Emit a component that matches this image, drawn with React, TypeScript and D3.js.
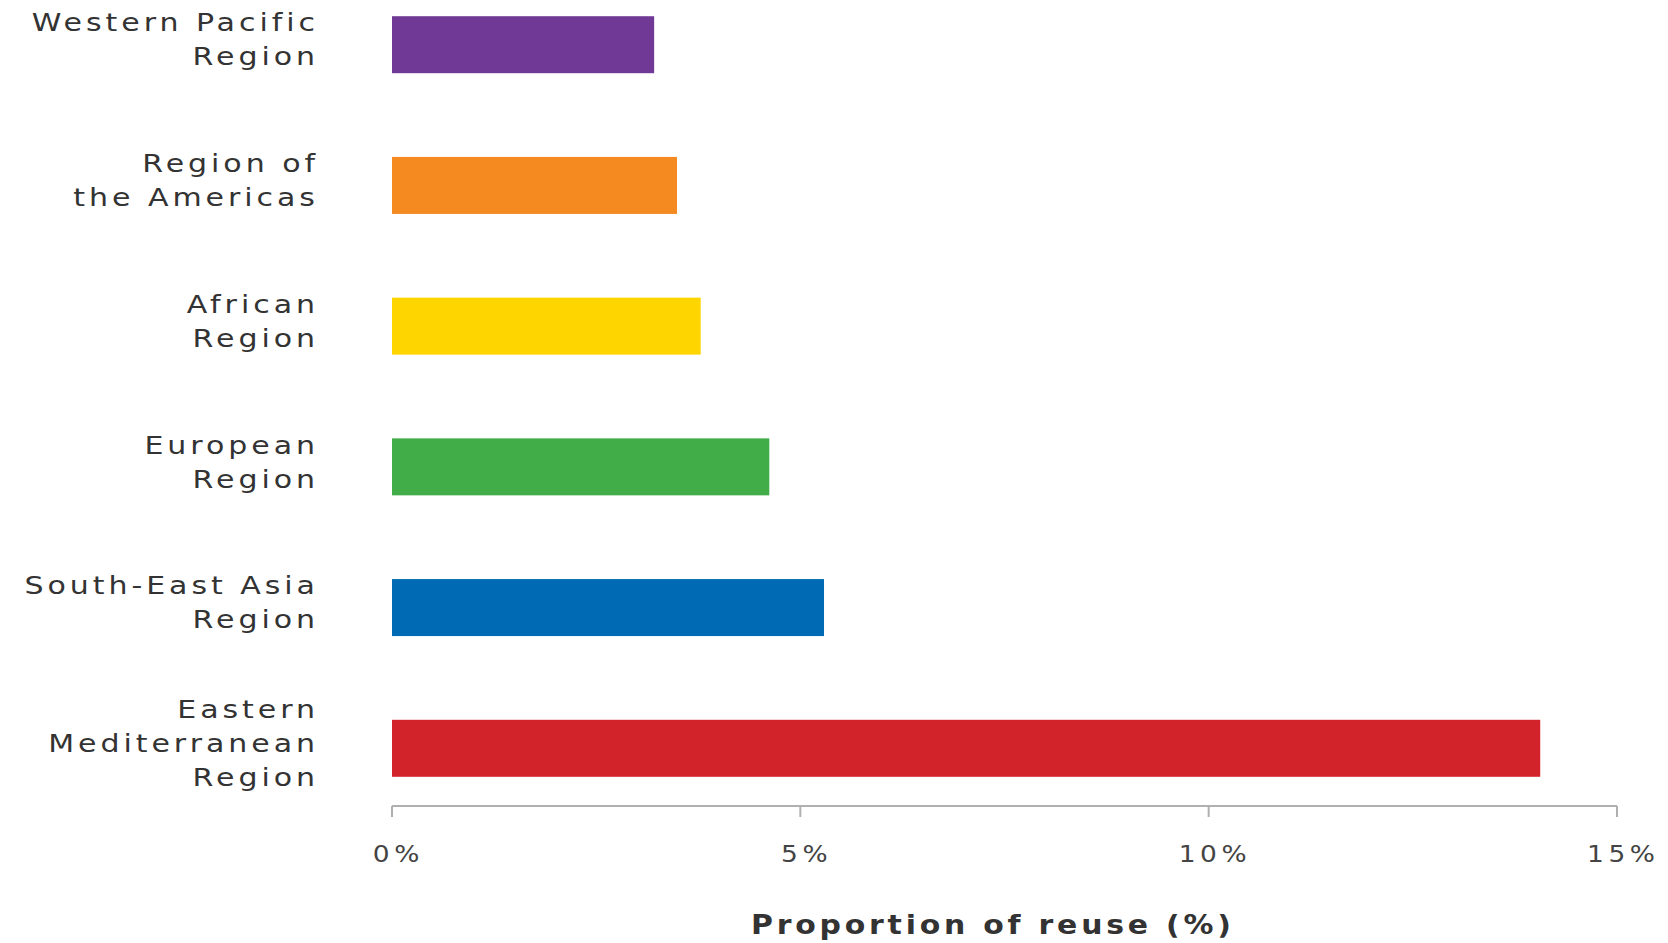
import React from "react";
import * as d3 from "d3";

const categories = [
  ["Western Pacific", "Region"],
  ["Region of", "the Americas"],
  ["African", "Region"],
  ["European", "Region"],
  ["South-East Asia", "Region"],
  ["Eastern", "Mediterranean", "Region"],
];
const values = [3.21, 3.49, 3.78, 4.62, 5.29, 14.06];
const colors = ["#713996", "#F58A20", "#FFD500", "#41AD49", "#006AB5", "#D2232A"];
const ticks = [0, 5, 10, 15];
const axisTitle = "Proportion of reuse (%)";

const W = 1668;
const H = 943;

export default function App() {
  const keys = categories.map((c) => c.join(" "));
  const x = d3.scaleLinear().domain([0, 15]).range([392, 1617]);
  const y = d3
    .scaleBand<string>()
    .domain(keys)
    .range([-26, 819])
    .paddingInner(0.595)
    .paddingOuter(0.3);
  const axisY = 806;
  const labelFont = "'DejaVu Sans', Verdana, sans-serif";
  const lineH = 34;
  const ls = 3.3;
  const sx = 1.2;

  return (
    <svg width={W} height={H} style={{ position: "absolute", left: 0, top: 0, background: "#fff" }}>
      {keys.map((k, i) => (
        <rect
          key={k}
          x={x(0)}
          y={y(k)!}
          width={x(values[i]) - x(0)}
          height={y.bandwidth()}
          fill={colors[i]}
        />
      ))}
      {categories.map((lines, i) => {
        const cy = y(keys[i])! + y.bandwidth() / 2 - 5;
        const start = cy - ((lines.length - 1) * lineH) / 2;
        return (
          <g key={keys[i]} transform={`translate(315,0) scale(${sx},1)`}>
            <text textAnchor="end" fontFamily={labelFont} fontSize={25} letterSpacing={ls} fill="#333">
              {lines.map((ln, j) => (
                <tspan key={j} x={ls} y={start + j * lineH} dy="0.35em">
                  {ln}
                </tspan>
              ))}
            </text>
          </g>
        );
      })}
      <line x1={x(0)} x2={x(15)} y1={axisY} y2={axisY} stroke="#b0b0b0" strokeWidth={2} />
      {ticks.map((t) => (
        <g key={t}>
          <line x1={x(t)} x2={x(t)} y1={axisY} y2={axisY + 11} stroke="#b0b0b0" strokeWidth={2} />
          <g transform={`translate(${x(t) + 4},854) scale(1.15,1)`}>
            <text
              x={2}
              y={0}
              dy="0.35em"
              textAnchor="middle"
              fontFamily={labelFont}
              fontSize={23}
              letterSpacing={4}
              fill="#444"
            >
              {t + "%"}
            </text>
          </g>
        </g>
      ))}
      <g transform={`translate(991,925) scale(1.15,1)`}>
        <text
          x={1.6}
          y={0}
          dy="0.35em"
          textAnchor="middle"
          fontFamily={labelFont}
          fontSize={26}
          fontWeight="bold"
          letterSpacing={3.3}
          fill="#333"
        >
          {axisTitle}
        </text>
      </g>
    </svg>
  );
}
